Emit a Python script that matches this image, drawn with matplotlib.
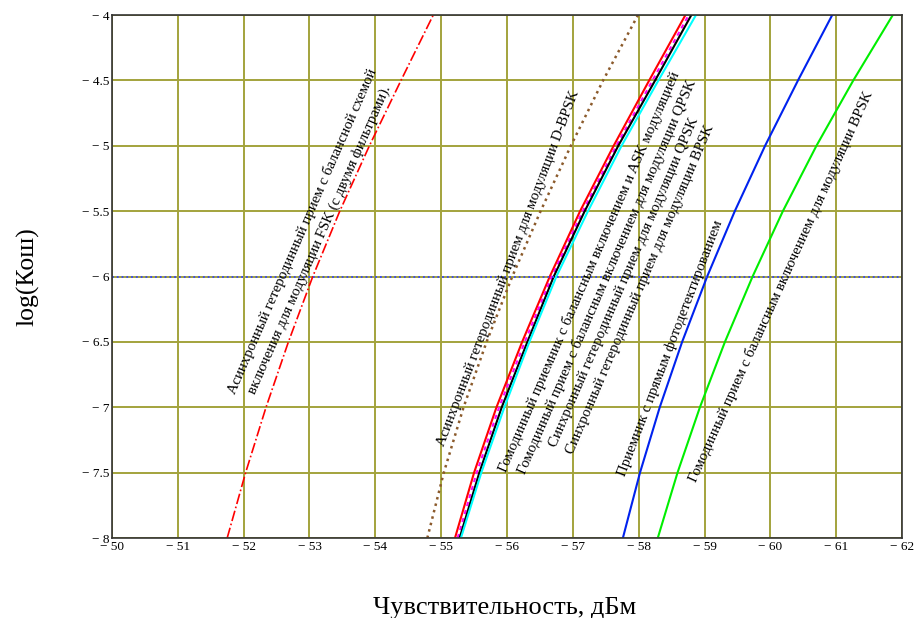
import numpy as np
import matplotlib
matplotlib.use("Agg")
import matplotlib.pyplot as plt

log_ber = [-8, -7.5, -7, -6.5, -6, -5.5, -5, -4.5, -4]

# sensitivity (dBm) for each receiver type
fsk_async = [-51.75, -52.03, -52.34, -52.68, -53.05, -53.46, -53.91, -54.39, -54.88]
dbpsk_async = [-54.79, -55.04, -55.34, -55.69, -56.08, -56.51, -56.97, -57.46, -57.99]
ask_homodyne = [-55.21, -55.50, -55.84, -56.23, -56.65, -57.11, -57.62, -58.16, -58.71]
qpsk_homodyne = [-55.25, -55.54, -55.88, -56.27, -56.68, -57.15, -57.66, -58.21, -58.76]
qpsk_sync = [-55.28, -55.58, -55.92, -56.31, -56.71, -57.18, -57.69, -58.25, -58.80]
bpsk_sync = [-55.30, -55.61, -55.96, -56.34, -56.75, -57.23, -57.74, -58.30, -58.87]
direct_det = [-57.76, -58.02, -58.32, -58.66, -59.04, -59.46, -59.92, -60.42, -60.94]
bpsk_homodyne = [-58.29, -58.59, -58.93, -59.31, -59.73, -60.19, -60.70, -61.26, -61.86]

ber_level = -6

xticks = list(range(-50, -63, -1))
yticks = [-8, -7.5, -7, -6.5, -6, -5.5, -5, -4.5, -4]

plt.rcParams['font.family'] = ['Liberation Serif', 'DejaVu Serif']

fig = plt.figure(figsize=(9.14, 6.18), dpi=100)
ax = fig.add_axes([0.1225, 0.1294, 0.8644, 0.8463])

ax.plot(fsk_async, log_ber, color="red", linestyle="-.", linewidth=1.2)
ax.plot(dbpsk_async, log_ber, color="#8b5a2b", linestyle=":", linewidth=1.8)
ax.plot(ask_homodyne, log_ber, color="red", linewidth=1.5)
ax.plot(qpsk_homodyne, log_ber, color="magenta", linestyle=(0, (2, 2)), linewidth=1.5)
ax.plot(qpsk_sync, log_ber, color="black", linewidth=1.5)
ax.plot(bpsk_sync, log_ber, color="cyan", linewidth=1.5)
ax.plot(direct_det, log_ber, color="#0022ee", linewidth=1.5)
ax.plot(bpsk_homodyne, log_ber, color="#00ee00", linewidth=1.5)
ax.axhline(ber_level, color="#3344ff", linestyle=":", linewidth=1.3)

ax.set_xlim(-50, -62)
ax.set_ylim(-8, -4)
ax.set_xticks(xticks)
ax.set_yticks(yticks)
ax.set_xticklabels(["\u2212 %d" % abs(v) for v in xticks], fontsize=9.5)
ax.set_yticklabels(["\u2212 %g" % abs(v) for v in yticks], fontsize=9.5)
ax.tick_params(length=0, pad=2)
ax.grid(True, color="#a3a33c", linewidth=1.4)
ax.set_axisbelow(True)
for s in ax.spines.values():
    s.set_color("#333333")
    s.set_linewidth(1.2)

ax.set_xlabel("Чувствительность, дБм", fontsize=19, va="center")
ax.xaxis.set_label_coords(0.497, -0.134)
ax.set_ylabel("log(Кош)", fontsize=18.5, va="center")
ax.yaxis.set_label_coords(-0.106, 0.499)

# rotated curve labels, anchored at the start of each baseline
fs = 10.7
labels = [
    (-51.88, -6.906, 66.4, "Асинхронный гетеродинный прием с балансной схемой"),
    (-52.18, -6.906, 66.2, "включения для модуляции FSK (с двумя фильтрами)."),
    (-55.05, -7.304, 69.2, "Асинхронный гетеродинный прием для модуляции D-BPSK"),
    (-55.99, -7.503, 66.5, "Гомодинный приемник с балансным включением и ASK модуляцией"),
    (-56.28, -7.518, 66.5, "Гомодинный прием с балансным включением для модуляции QPSK"),
    (-56.75, -7.312, 66.6, "Синхронный гетеродинный прием для модуляции QPSK"),
    (-57.01, -7.365, 66.8, "Синхронный гетеродинный прием для модуляции BPSK"),
    (-57.80, -7.533, 69.1, "Приемник с прямым фотодетектированием"),
    (-58.87, -7.579, 65.6, "Гомодинный прием с балансным включением для модуляции BPSK"),
]
for x, y, ang, s in labels:
    ax.text(x, y, s, rotation=ang, rotation_mode="anchor",
            ha="left", va="baseline", fontsize=fs)

fig.savefig("out.png", dpi=100)
